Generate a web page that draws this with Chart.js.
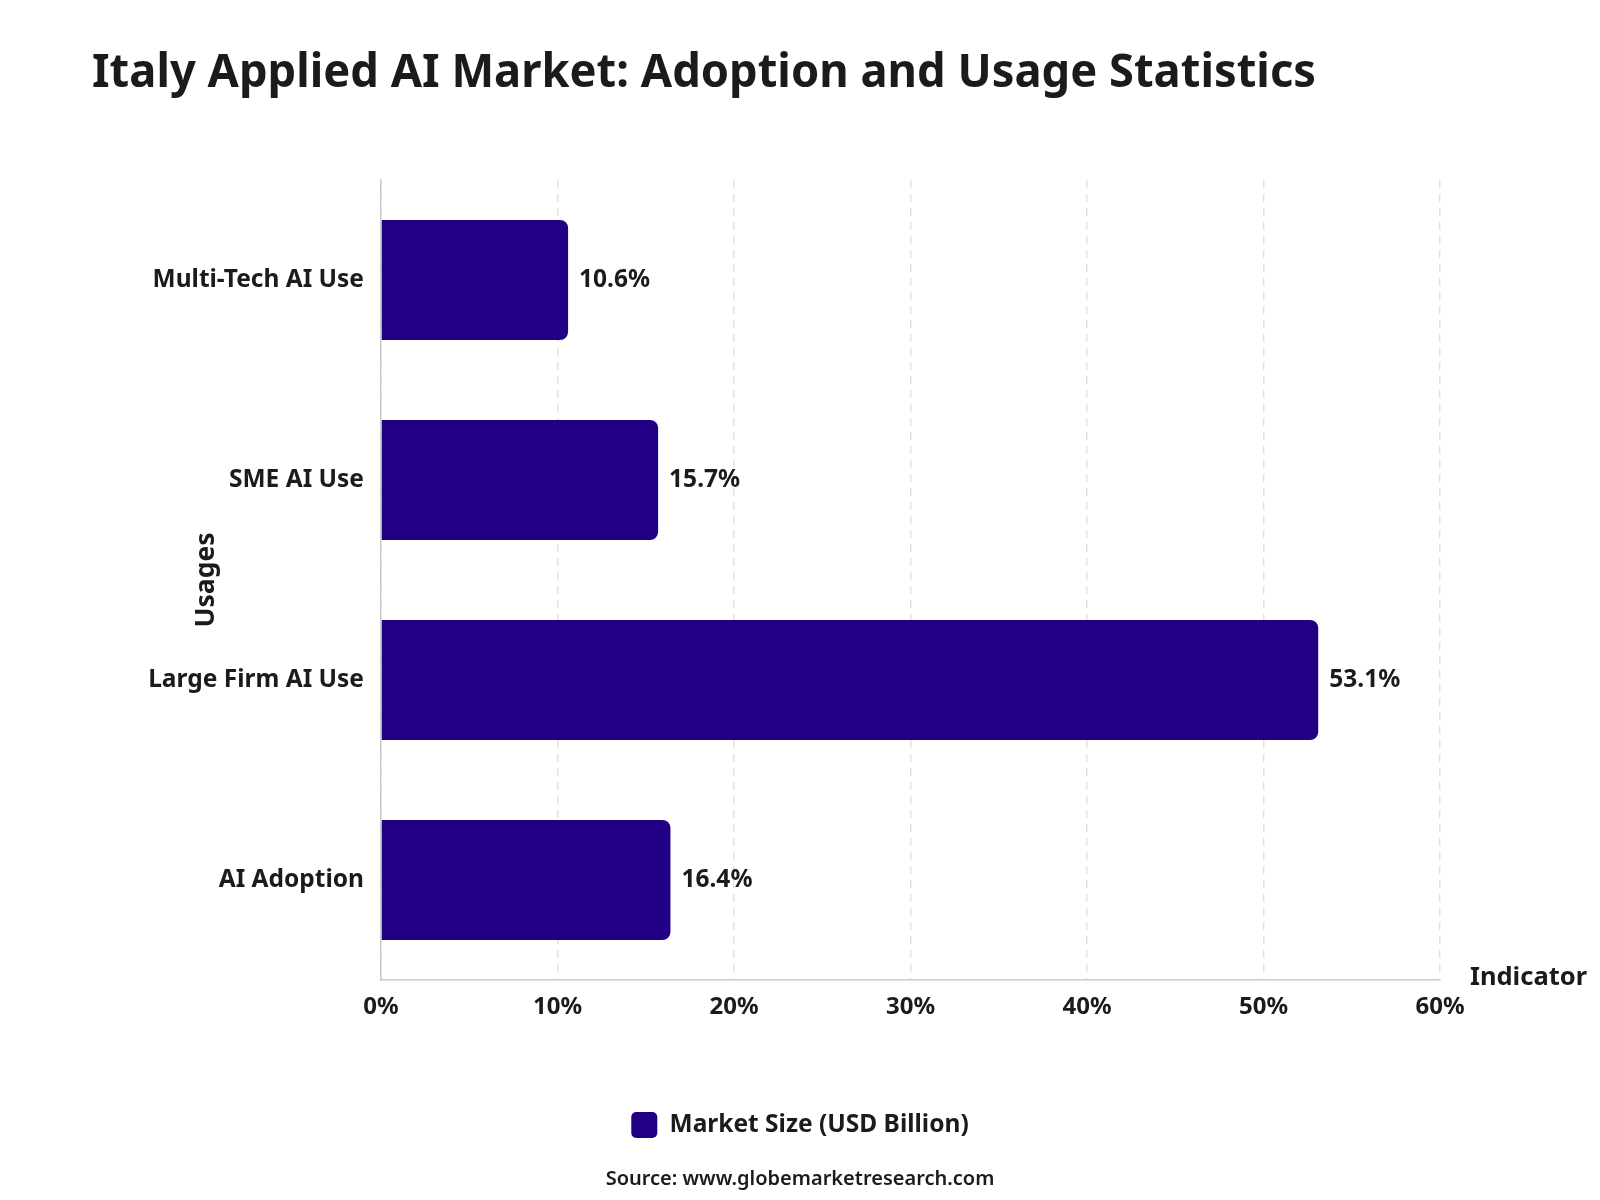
<!DOCTYPE html>
<html>
<head>
<meta charset="utf-8">
<script src="https://cdn.jsdelivr.net/npm/chart.js@4.4.1/dist/chart.umd.min.js"></script>
<style>
  body { margin: 0; background: #fff; }
  #wrap { width: 1600px; height: 1200px; }
</style>
</head>
<body>
<div id="wrap"><canvas id="myChart" width="1600" height="1200"></canvas></div>
<script>
// Data
const categories = ["Multi-Tech AI Use", "SME AI Use", "Large Firm AI Use", "AI Adoption"];
const values = [10.6, 15.7, 53.1, 16.4];
const seriesName = "Market Size (USD Billion)";
const xTicks = [0, 10, 20, 30, 40, 50, 60];

const FONT = "'Noto Sans', 'Open Sans', sans-serif";
const INK = "#1b1b1b";
const BAR = "#220085";

// Titles, axis names, value labels, source line
const extras = {
  id: "extras",
  afterDatasetsDraw(chart) {
    const ctx = chart.ctx;
    ctx.save();
    ctx.fillStyle = INK;

    // value labels
    ctx.font = "bold 24.5px " + FONT;
    ctx.textAlign = "left";
    ctx.textBaseline = "middle";
    chart.getDatasetMeta(0).data.forEach((bar, i) => {
      ctx.fillText(values[i].toFixed(1) + "%", bar.x + 11, bar.y);
    });
    ctx.restore();
  },
  afterDraw(chart) {
    const ctx = chart.ctx;
    const area = chart.chartArea;
    ctx.save();
    ctx.fillStyle = INK;

    // main title
    ctx.font = "bold 46px " + FONT;
    ctx.textAlign = "left";
    ctx.textBaseline = "alphabetic";
    ctx.fillText("Italy Applied AI Market: Adoption and Usage Statistics", 92, 87, 1224);

    // x axis name
    ctx.font = "bold 25.5px " + FONT;
    ctx.textBaseline = "middle";
    ctx.fillText("Indicator", area.right + 30, area.bottom - 2);

    // y axis name
    ctx.save();
    ctx.font = "bold 26.5px " + FONT;
    ctx.translate(206, (area.top + area.bottom) / 2);
    ctx.rotate(-Math.PI / 2);
    ctx.textAlign = "center";
    ctx.fillText("Usages", 0, 0);
    ctx.restore();

    // source
    ctx.font = "600 20px " + FONT;
    ctx.textAlign = "center";
    ctx.textBaseline = "middle";
    ctx.fillText("Source: www.globemarketresearch.com", 800, 1179);
    ctx.restore();
  }
};

new Chart(document.getElementById("myChart"), {
  type: "bar",
  data: {
    labels: categories,
    datasets: [{
      label: seriesName,
      data: values,
      backgroundColor: BAR,
      borderRadius: { topLeft: 0, bottomLeft: 0, topRight: 8, bottomRight: 8 },
      borderSkipped: false,
      barPercentage: 0.75,
      categoryPercentage: 0.8
    }]
  },
  options: {
    indexAxis: "y",
    responsive: false,
    animation: false,
    layout: { padding: { top: 180, right: 0, bottom: 52, left: 0 } },
    plugins: {
      title: { display: false },
      tooltip: { enabled: false },
      legend: {
        position: "bottom",
        labels: {
          color: INK,
          font: { family: FONT, size: 24.5, weight: "bold" },
          boxWidth: 26,
          boxHeight: 26,
          useBorderRadius: true,
          borderRadius: 5,
          padding: 10
        }
      }
    },
    scales: {
      x: {
        min: 0,
        max: 60,
        afterBuildTicks: s => { s.ticks = xTicks.map(v => ({ value: v })); },
        afterFit: s => { s.height = 122; },
        ticks: {
          color: INK,
          padding: 13,
          font: { family: FONT, size: 24, weight: "bold" },
          callback: v => v + "%"
        },
        grid: { color: "#e2e2e2", lineWidth: 1.5, drawTicks: false },
        border: { display: true, color: "#cccccc", width: 1.5, dash: [8, 6] }
      },
      y: {
        afterFit: s => { s.width = 381; },
        ticks: {
          color: INK,
          padding: 17,
          font: { family: FONT, size: 24.5, weight: "bold" }
        },
        grid: { display: false, drawTicks: false },
        border: { display: true, color: "#cccccc", width: 1.5 }
      },
      // empty right-hand spacer so the plot ends at 60% while the legend stays centred on the page
      spacer: {
        type: "category",
        axis: "y",
        position: "right",
        afterFit: s => { s.width = 160; },
        ticks: { display: false },
        grid: { display: false, drawTicks: false },
        border: { display: false }
      }
    }
  },
  plugins: [extras]
});
</script>
</body>
</html>
